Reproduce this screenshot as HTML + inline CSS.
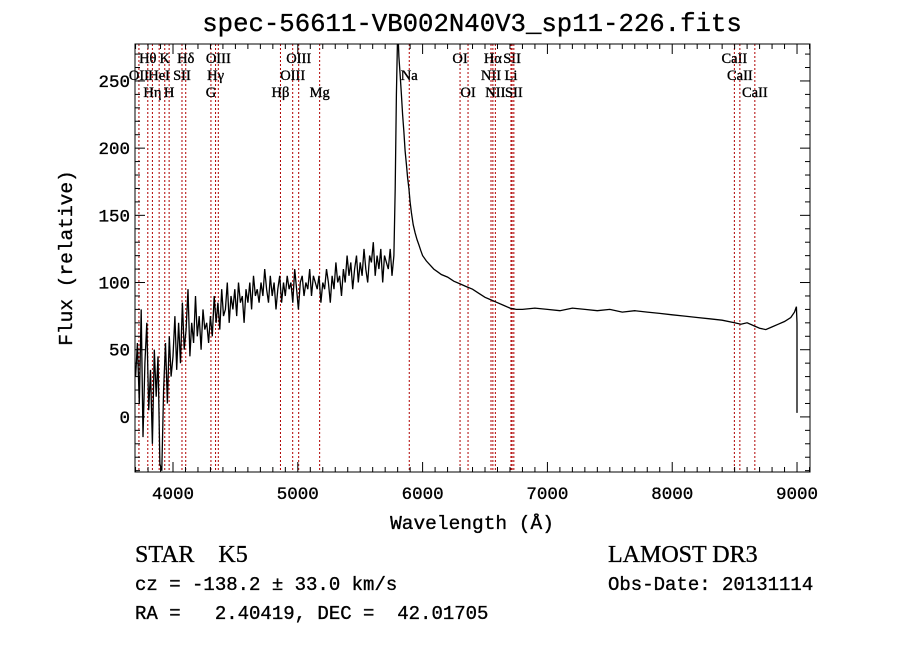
<!DOCTYPE html>
<html><head><meta charset="utf-8"><style>
body{margin:0;background:#fff;}
svg{display:block;}
text{stroke:#000;stroke-width:0.35;}
</style></head><body>
<svg id="chart" width="900" height="649" xmlns="http://www.w3.org/2000/svg">
<text x="472" y="31" text-anchor="middle" font-family="Liberation Mono, monospace" font-size="25.7">spec-56611-VB002N40V3_sp11-226.fits</text>
<g id="plot"></g>
<text x="472" y="529" text-anchor="middle" font-family="Liberation Mono, monospace" font-size="19.5">Wavelength (Å)</text>
<text transform="translate(72,258) rotate(-90)" text-anchor="middle" font-family="Liberation Mono, monospace" font-size="19.5">Flux (relative)</text>
<text x="135" y="562" font-family="Liberation Serif, serif" font-size="24" xml:space="preserve">STAR    K5</text>
<text x="135" y="590" font-family="Liberation Mono, monospace" font-size="19">cz = -138.2 ± 33.0 km/s</text>
<text x="135" y="619" font-family="Liberation Mono, monospace" font-size="19" xml:space="preserve">RA =   2.40419, DEC =  42.01705</text>
<text x="608" y="562" font-family="Liberation Serif, serif" font-size="24">LAMOST DR3</text>
<text x="608" y="590" font-family="Liberation Mono, monospace" font-size="19">Obs-Date: 20131114</text>
</svg>
<script>
const noisyStart = 3700, noisyStep = 15;
const noisyFlux = [30,55,10,80,-15,40,70,5,35,-20,50,15,45,-35,-40,20,55,10,60,30,
45,75,35,70,40,85,50,65,95,45,70,55,90,60,75,50,80,65,70,55,
75,60,90,70,85,65,95,75,80,100,70,90,80,95,75,100,85,90,70,95,
85,100,80,105,90,95,85,100,90,110,95,85,105,90,100,80,95,105,85,100,
90,105,95,100,85,110,95,80,100,105,90,100,95,110,90,105,100,95,105,85,
100,95,110,100,85,105,95,115,100,105,90,110,100,120,105,115,95,110,120,100,
115,105,125,110,100,120,115,130,105,120,110,125,100,120,115,110,125,105,120];
const tailWave = [5780,5790,5800,5805,5810,5820,5830,5840,5850,5860,5870,5880,5890,5900,5910,5925,5940,5955,5970,5985,6000,6030,6060,6090,6120,6150,6200,6250,6300,6350,6400,6450,6500,6550,6600,6650,6700,6750,6800,6900,7000,7100,7200,7300,7400,7500,7600,7700,7800,7900,8000,8100,8200,8300,8400,8500,8550,8600,8650,8700,8750,8800,8850,8900,8950,8980,8995,9000,9000];
const tailFlux = [170,240,285,280,268,255,240,225,212,198,188,178,170,160,152,143,137,132,128,124,120,116,113,110,108,106,104,101,99,97,95,92,89,87,85,83,81,80,80,81,80,79,81,80,79,80,78,79,78,77,76,75,74,73,72,70,69,70,68,66,65,67,69,71,74,78,82,70,3];
const lineWave = [3727,3798,3835,3889,3934,3969,4072,4102,4304,4341,4363,4861,4959,5007,5175,5893,6300,6364,6548,6563,6583,6708,6717,6731,8498,8542,8662];
const lineName = ["OII","Hθ","Hη","HeI","K","H","SII","Hδ","G","Hγ","OIII","Hβ","OIII","OIII","Mg","Na","OI","OI","NII","Hα","NII","Li","SII","SII","CaII","CaII","CaII"];
const lineRow = [2,1,3,2,1,3,2,1,3,2,1,3,2,1,3,2,1,3,2,1,3,2,1,3,1,2,3];
const xTicks = [4000,5000,6000,7000,8000,9000];
const yTicks = [0,50,100,150,200,250];

const L=135,R=810,T=44,B=472;
const xmin=3695.5,xmax=9104,ymin=-41,ymax=277.5;
const X=w=>L+(w-xmin)/(xmax-xmin)*(R-L);
const Y=f=>B-(f-ymin)/(ymax-ymin)*(B-T);
const NS="http://www.w3.org/2000/svg";
const g=document.getElementById('plot');
function mk(tag,attrs){const e=document.createElementNS(NS,tag);for(const k in attrs)e.setAttribute(k,attrs[k]);g.appendChild(e);return e;}

lineWave.forEach((w,i)=>{
  const l=mk('line',{x1:X(w),x2:X(w),y1:T,y2:B,stroke:'#b00000','stroke-width':1,'stroke-dasharray':'2,2'});
  
  
  const t=mk('text',{x:X(w),y:T+19+(lineRow[i]-1)*17,'text-anchor':'middle','font-family':'Liberation Serif, serif','font-size':14.5});
  t.textContent=lineName[i];
  
  
});

let pts=[];
noisyFlux.forEach((f,i)=>{pts.push(X(noisyStart+i*noisyStep).toFixed(1)+','+Y(f).toFixed(1));});
tailWave.forEach((w,i)=>{pts.push(X(w).toFixed(1)+','+Y(tailFlux[i]).toFixed(1));});
const cp=document.createElementNS(NS,'clipPath');cp.setAttribute('id','clip');
const cr=document.createElementNS(NS,'rect');cr.setAttribute('x',L);cr.setAttribute('y',T);cr.setAttribute('width',R-L);cr.setAttribute('height',B-T);
cp.appendChild(cr);g.appendChild(cp);
const sp=mk('polyline',{points:pts.join(' '),fill:'none',stroke:'#000','stroke-width':1.3,'clip-path':'url(#clip)'});



const fr=mk('rect',{x:L,y:T,width:R-L,height:B-T,fill:'none',stroke:'#000','stroke-width':1});



for(let w=3700;w<=9100;w+=100){
  const len=(w%1000===0)?10:5;
  mk('line',{x1:X(w),x2:X(w),y1:B,y2:B-len,stroke:'#000'});
  mk('line',{x1:X(w),x2:X(w),y1:T,y2:T+len,stroke:'#000'});
}
xTicks.forEach(w=>{
  const t=mk('text',{x:X(w),y:B+27,'text-anchor':'middle','font-family':'Liberation Mono, monospace','font-size':17.5});
  t.textContent=w;
  
  
});
for(let f=-40;f<=270;f+=10){
  const len=(f%50===0)?10:5;
  mk('line',{x1:L,x2:L+len,y1:Y(f),y2:Y(f),stroke:'#000'});
  mk('line',{x1:R,x2:R-len,y1:Y(f),y2:Y(f),stroke:'#000'});
}
yTicks.forEach(f=>{
  const t=mk('text',{x:L-5,y:Y(f)+6,'text-anchor':'end','font-family':'Liberation Mono, monospace','font-size':17.5});
  t.textContent=f;
  
  
});
</script>
</body></html>
